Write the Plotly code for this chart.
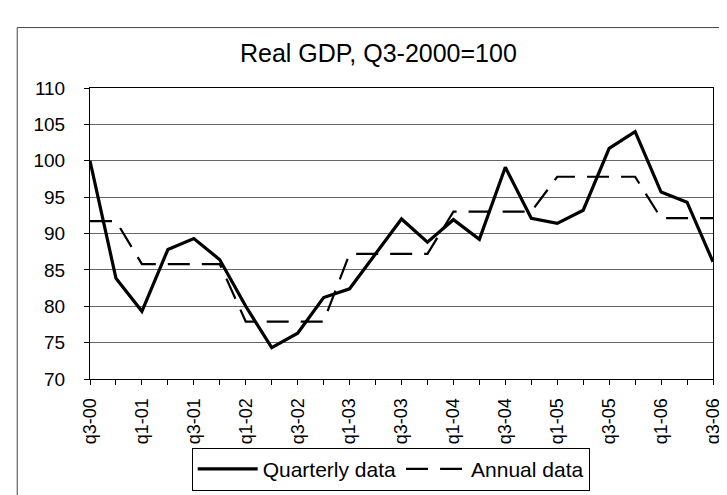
import plotly.graph_objects as go

quarters = ["q3-00", "q4-00", "q1-01", "q2-01", "q3-01", "q4-01", "q1-02", "q2-02",
            "q3-02", "q4-02", "q1-03", "q2-03", "q3-03", "q4-03", "q1-04", "q2-04",
            "q3-04", "q4-04", "q1-05", "q2-05", "q3-05", "q4-05", "q1-06", "q2-06", "q3-06"]
quarterly = [100.0, 83.85, 79.3, 87.8, 89.3, 86.4, 80.0, 74.3, 76.3, 81.2, 82.4, 87.2,
             92.0, 88.8, 91.9, 89.2, 99.1, 92.1, 91.4, 93.2, 101.7, 104.0, 95.7, 94.3, 86.1]
annual = [91.7, 91.7, 85.8, 85.8, 85.8, 85.8, 77.9, 77.9, 77.9, 77.9, 87.2, 87.2,
          87.2, 87.2, 93.0, 93.0, 93.0, 93.0, 97.8, 97.8, 97.8, 97.8, 92.1, 92.1, 92.1]
tick_labels = ["q3-00", "", "q1-01", "", "q3-01", "", "q1-02", "", "q3-02", "", "q1-03", "",
               "q3-03", "", "q1-04", "", "q3-04", "", "q1-05", "", "q3-05", "", "q1-06", "", "q3-06"]

FONT = "Arial, Liberation Sans, Helvetica, sans-serif"

fig = go.Figure()
fig.add_trace(go.Scatter(x=quarters, y=quarterly, mode="lines", name="Quarterly data",
                         line=dict(color="black", width=3.2)))
fig.add_trace(go.Scatter(x=quarters, y=annual, mode="lines", name="Annual data",
                         line=dict(color="black", width=2.2, dash="22px,12px")))

L, R, T, B = 82, 707, 80, 381
W, H = 727, 495
pw, ph = R - L, B - T

def px2paper_x(px):
    return (px - L) / pw

def px2paper_y(py):
    return (B - py) / ph

fig.update_layout(
    width=W, height=H,
    margin=dict(l=L, r=W - R, t=T, b=H - B),
    paper_bgcolor="white", plot_bgcolor="white",
    font=dict(family=FONT, color="black"),
    showlegend=True,
    legend=dict(orientation="h", x=px2paper_x(184), y=px2paper_y(452),
                xanchor="left", yanchor="top",
                bordercolor="black", borderwidth=1, bgcolor="white",
                font=dict(size=21, family=FONT, color="black"),
                itemwidth=60, tracegroupgap=0),
    shapes=[dict(type="rect", xref="paper", yref="paper",
                 x0=px2paper_x(9), x1=px2paper_x(722), y0=px2paper_y(520), y1=px2paper_y(17.5),
                 line=dict(color="#444", width=1), layer="below")],
    annotations=[dict(text="Real GDP, Q3-2000=100", xref="paper", yref="paper",
                      x=px2paper_x(371), y=px2paper_y(44), xanchor="center", yanchor="middle",
                      showarrow=False, font=dict(size=25, family=FONT, color="black"))],
)

fig.update_xaxes(type="category", categoryorder="array", categoryarray=quarters,
                 range=[0, len(quarters) - 1],
                 tickmode="array", tickvals=quarters, ticktext=tick_labels,
                 tickangle=-90, ticks="outside", ticklen=5, tickcolor="black",
                 tickfont=dict(size=18, family=FONT, color="black"),
                 showline=True, linecolor="black", linewidth=1, mirror=True,
                 showgrid=False, zeroline=False, ticklabelstandoff=6)
fig.update_yaxes(range=[70, 110], dtick=5, tick0=70,
                 ticks="outside", ticklen=5, tickcolor="black",
                 tickfont=dict(size=19, family=FONT, color="black"),
                 showline=True, linecolor="black", linewidth=1, mirror=True,
                 showgrid=True, gridcolor="#666", gridwidth=1, zeroline=False,
                 ticklabelstandoff=15)

fig.write_html("out.html")
